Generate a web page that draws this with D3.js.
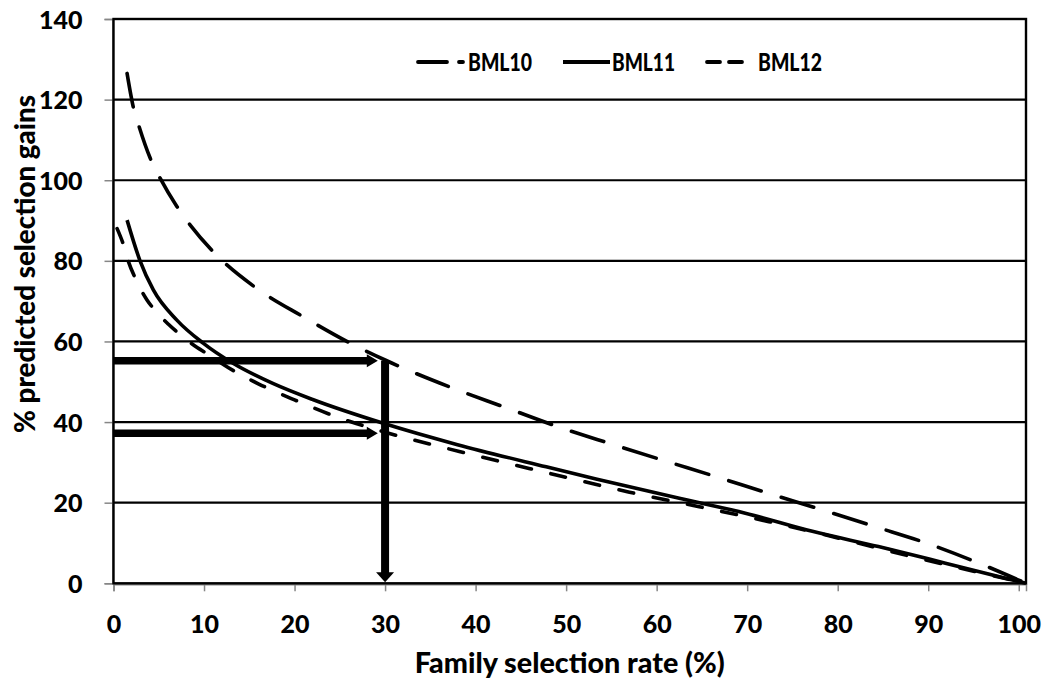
<!DOCTYPE html>
<html><head><meta charset="utf-8">
<script src="https://cdn.jsdelivr.net/npm/d3@7"></script>
<style>
body{margin:0;background:#fff;}
svg{display:block;font-family:Lato,"Open Sans",sans-serif;font-weight:900;}
</style>
</head><body>
<svg id="c" width="1055" height="686"></svg>
<script>
// ---- data ----
const xTicks = [0,10,20,30,40,50,60,70,80,90,100];
const yTicks = [0,20,40,60,80,100,120,140];
const seriesNames = ["BML10","BML11","BML12"];

const bml10Rate = [1.5,2.2,2.8,4.05,5.15,7,8.5,11,15.8,20.9,26.3,30,37.5,43.2,48.9,54.8,60.6,66.5,72.4,78.3,84.2,89.9,95.6,100.8];
const bml10Gain = [126.5,118,113.5,105.5,100.5,93.5,88.8,82.3,73.2,66.2,59.4,55.4,48.4,43.7,39,34.7,30.6,26.5,22.3,18.2,14,9.9,5,0];

const bml11Rate = [1.5,2.9,4.4,7,9.9,13.2,17.6,22,29.8,38,47.8,53.3,62.5,69.8,77.2,84.5,91.9,100.8];
const bml11Gain = [90.1,80.2,72.8,65.3,59.6,54.6,49.6,45.6,39.7,34.4,28.9,25.9,21.1,17.4,12.9,9.1,5.0,0];

const bml12Rate = [0.4,1.1,1.65,2.4,3.7,4.4,6.1,7.2,8.8,10.3,13.6,16,20,25,30,38.2,45.9,49.6,57,64.7,72.4,80.1,88.2,95,100.8];
const bml12Gain = [88,84,79.8,75.7,70.3,68.2,64.2,62,59.2,57,52.3,49.5,45.5,41,37.5,32.7,28.5,26.5,22.6,19,15.3,11.2,6.6,3,0];

const arrowRate = 30;            // vertical arrow position
const arrowGains = [55.2, 37.2]; // horizontal arrows
const arrowTipRate = 29.2;

// ---- layout ----
const L = 113.5, R = 1026, T = 19, B = 583.3;
const svg = d3.select("#c");
const x = d3.scaleLinear().domain([0,100.8]).range([L,R]);
const y = d3.scaleLinear().domain([0,140]).range([B,T]);

// gridlines
svg.append("g").selectAll("line").data(yTicks.filter(v=>v>0)).join("line")
  .attr("x1",L).attr("x2",R).attr("y1",d=>y(d)).attr("y2",d=>y(d))
  .attr("stroke","#000").attr("stroke-width",2.2);

// axes
const xAxis = svg.append("g").attr("transform",`translate(0,${B+1})`)
  .call(d3.axisBottom(x).tickValues(xTicks).tickSize(7).tickPadding(24).tickFormat(d3.format("d")));
const yAxis = svg.append("g").attr("transform",`translate(${L-1},0)`)
  .call(d3.axisLeft(y).tickValues(yTicks).tickSize(8).tickPadding(22).tickFormat(d3.format("d")));
[xAxis,yAxis].forEach(a=>{
  a.select(".domain").attr("stroke","#868686").attr("stroke-width",1.5);
  a.selectAll(".tick line").attr("stroke","#868686").attr("stroke-width",1.5);
  a.selectAll(".tick text").attr("fill","#000").style("font-size","25px").style("font-family","Lato").style("font-weight","900");
});
yAxis.selectAll(".tick text").attr("dy","0.36em");

// curves
const line = d3.line().x(d=>x(d[0])).y(d=>y(d[1])).curve(d3.curveMonotoneX);
const series = [
  {name:seriesNames[0], pts:d3.zip(bml10Rate,bml10Gain), dash:"34,21"},
  {name:seriesNames[1], pts:d3.zip(bml11Rate,bml11Gain), dash:null},
  {name:seriesNames[2], pts:d3.zip(bml12Rate,bml12Gain), dash:"15,20"}
];
svg.append("g").selectAll("path").data(series).join("path")
  .attr("d",d=>line(d.pts)).attr("fill","none").attr("stroke","#000")
  .attr("stroke-width",3.6).attr("stroke-linecap",d=>d.dash?"round":"butt")
  .attr("stroke-dasharray",d=>d.dash);

// arrows
const ag = svg.append("g");
arrowGains.forEach(g=>{
  const yy = y(g), tip = x(arrowTipRate);
  ag.append("line").attr("x1",x(0)).attr("x2",tip-9).attr("y1",yy).attr("y2",yy)
    .attr("stroke","#000").attr("stroke-width",7.5);
  ag.append("path").attr("d",`M${tip},${yy} L${tip-11},${yy-6.5} L${tip-11},${yy+6.5} Z`).attr("fill","#000");
});
{
  const xx = x(arrowRate), top = y(arrowGains[0]), tip = y(0)-1;
  ag.append("line").attr("x1",xx).attr("x2",xx).attr("y1",top).attr("y2",tip-9)
    .attr("stroke","#000").attr("stroke-width",8);
  ag.append("path").attr("d",`M${xx},${tip} L${xx-9},${tip-10} L${xx+9},${tip-10} Z`).attr("fill","#000");
}

// plot frame
svg.append("rect").attr("x",L).attr("y",T).attr("width",R-L).attr("height",B-T)
  .attr("fill","none").attr("stroke","#000").attr("stroke-width",2.4);

// legend
const lg = svg.append("g").style("font-size","24px");
const legendItems = [
  {x0:418, len:45, dash:"29,12", tx:468, tw:64},
  {x0:563, len:47, dash:null, tx:612, tw:63},
  {x0:707, len:43, dash:"13,9", tx:758, tw:64}
];
legendItems.forEach((it,i)=>{
  lg.append("line").attr("x1",it.x0).attr("x2",it.x0+it.len).attr("y1",62).attr("y2",62)
    .attr("stroke","#000").attr("stroke-width",3.8).attr("stroke-dasharray",it.dash)
    .attr("stroke-linecap",it.dash?"round":"butt");
  lg.append("text").attr("x",it.tx).attr("y",62).attr("dy","0.36em")
    .attr("textLength",it.tw).attr("lengthAdjust","spacingAndGlyphs").text(seriesNames[i]);
});

// axis titles
svg.append("text").attr("x",(L+R)/2).attr("y",673).attr("text-anchor","middle")
  .style("font-size","28px").attr("textLength",310).attr("lengthAdjust","spacingAndGlyphs")
  .text("Family selection rate (%)");
svg.append("text").attr("transform","translate(35,264) rotate(-90)").attr("text-anchor","middle")
  .style("font-size","28px").attr("textLength",338).attr("lengthAdjust","spacingAndGlyphs")
  .text("% predicted selection gains");
</script>
</body></html>
